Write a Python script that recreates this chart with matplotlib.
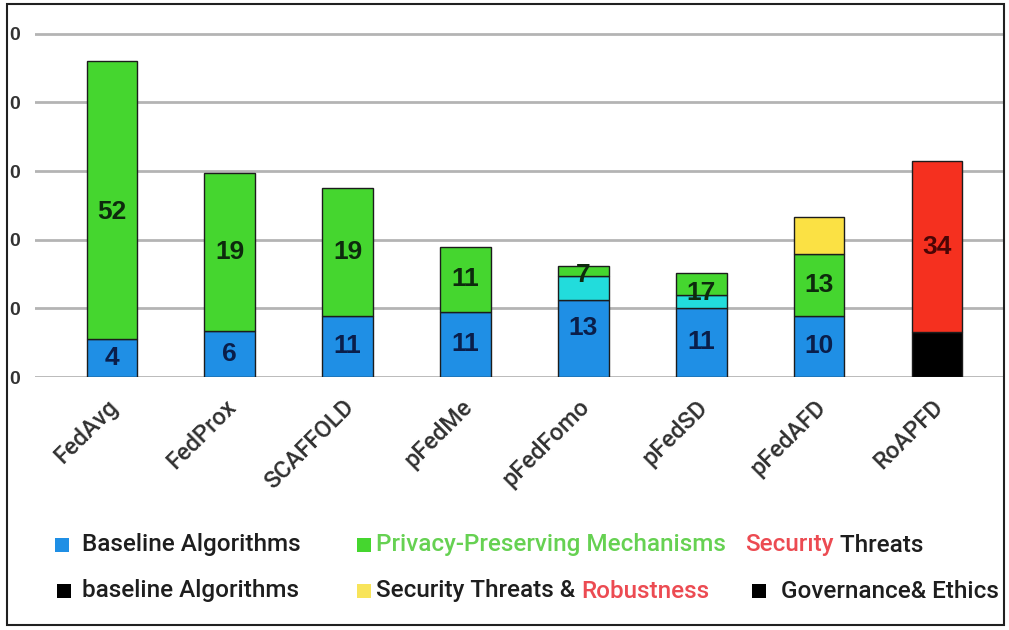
import matplotlib
matplotlib.use("Agg")
import matplotlib.pyplot as plt
from matplotlib.patches import Rectangle
from matplotlib.transforms import ScaledTranslation
import numpy as np

# ---------------- data ----------------
categories = ["FedAvg", "FedProx", "SCAFFOLD", "pFedMe", "pFedFomo", "pFedSD", "pFedAFD", "RoAPFD"]
y_ticks = [0, 10, 20, 30, 40, 50]
# only the last digit of each y tick label is visible in the (cropped) original
y_tick_labels = ["0", "0", "0", "0", "0", "0"]

# segment heights (axis units)
black_vals  = [0, 0, 0, 0, 0, 0, 0, 6.6]
blue_vals   = [5.5, 6.7, 8.9, 9.5, 11.2, 10.1, 8.9, 0]
cyan_vals   = [0, 0, 0, 0, 3.5, 1.9, 0, 0]
green_vals  = [40.6, 23.0, 18.7, 9.5, 1.5, 3.2, 9.0, 0]
yellow_vals = [0, 0, 0, 0, 0, 0, 5.4, 0]
red_vals    = [0, 0, 0, 0, 0, 0, 0, 24.8]

# printed segment labels
blue_labels  = ["4", "6", "11", "11", "13", "11", "10", ""]
green_labels = ["52", "19", "19", "11", "7", "17", "13", ""]
red_labels   = ["", "", "", "", "", "", "", "34"]

# ---------------- style ----------------
C_BLUE, C_CYAN, C_GREEN = "#1f8fe5", "#22dcdc", "#45d62f"
C_YELLOW, C_RED, C_BLACK = "#fbe144", "#f5301f", "#000000"

W, H = 1009, 630
fig = plt.figure(figsize=(W / 100, H / 100), dpi=100)
fig.patch.set_facecolor("white")

def px(x0, y0, x1, y1):
    return [x0 / W, 1 - y1 / H, (x1 - x0) / W, (y1 - y0) / H]

ax = fig.add_axes(px(35, 20, 1003, 377))
ax.set_facecolor("white")
for s in ax.spines.values():
    s.set_visible(False)

n = len(categories)
x = np.arange(n)
bw = 0.43
ax.set_xlim(-0.653, 7.56)
ax.set_ylim(0, 52.0)

stack = [
    (black_vals, C_BLACK, None, None),
    (blue_vals, C_BLUE, blue_labels, "#0a1e4a"),
    (cyan_vals, C_CYAN, None, None),
    (green_vals, C_GREEN, green_labels, "#0d2a0d"),
    (yellow_vals, C_YELLOW, None, None),
    (red_vals, C_RED, red_labels, "#4a0505"),
]
label_nudge = {(0, "green"): -1.7, (4, "blue"): 1.6, (4, "green"): -0.6, (5, "green"): -1.3}
names = ["black", "blue", "cyan", "green", "yellow", "red"]

bottom = np.zeros(n)
for (vals, col, labs, lcol), name in zip(stack, names):
    vals = np.array(vals, dtype=float)
    for i in range(n):
        if vals[i] <= 0:
            continue
        ax.bar(x[i], vals[i], bw, bottom=bottom[i], color=col,
               edgecolor="#1c1c1c", linewidth=1.0, zorder=3)
        if labs is not None and labs[i]:
            yc = bottom[i] + vals[i] / 2 + label_nudge.get((i, name), 0)
            ax.text(x[i], yc, labs[i], ha="center", va="center",
                    fontsize=19, fontweight="bold", color=lcol,
                    family="Liberation Sans", zorder=5)
    bottom += vals

ax.set_yticks(y_ticks)
ax.set_yticklabels(y_tick_labels, fontsize=14, fontweight="bold",
                   color="#333333", family="Liberation Sans")
ax.yaxis.grid(True, color="#b4b4b4", linewidth=2.0, zorder=0)
ax.tick_params(axis="y", length=0, pad=11)

ax.set_xticks(x)
ax.set_xticklabels(categories, rotation=45, ha="right", va="center",
                   rotation_mode="anchor", fontsize=17, color="#303030",
                   family="Roboto", fontweight="medium")
ax.tick_params(axis="x", length=0, pad=19)
off = ScaledTranslation(3 / 100, 0, fig.dpi_scale_trans)
for lab in ax.get_xticklabels():
    lab.set_transform(lab.get_transform() + off)

# ---------------- legend ----------------
def fx(p):
    return p / W

def fy(p):
    return 1 - p / H

lfont = dict(fontsize=17.5, family="Roboto", fontweight="medium", va="center", ha="left")
row1, row2 = 545, 591
sq = 14
fig.canvas.draw()
renderer = fig.canvas.get_renderer()

def square(xp, yp, col):
    fig.patches.append(Rectangle((fx(xp), fy(yp + sq / 2)), sq / W, sq / H,
                                 transform=fig.transFigure, facecolor=col,
                                 edgecolor="none", zorder=5))

def pieces(xp, yp, parts):
    cur = xp
    for txt, col in parts:
        t = fig.text(fx(cur), fy(yp), txt, color=col, **lfont)
        bb = t.get_window_extent(renderer=renderer)
        cur += bb.width

RED_T = "#ec4b52"
DARK_T = "#1e1e1e"
square(55, row1, C_BLUE)
pieces(82, row1, [("Baseline Algorithms", DARK_T)])
square(357, row1, C_GREEN)
pieces(376, row1, [("Privacy-Preserving Mechanisms", "#66d152")])
pieces(745, row1, [("Securıty", RED_T), (" Threats", DARK_T)])

square(57, row2, C_BLACK)
pieces(82, row2, [("baseline Algorithms", DARK_T)])
square(357, row2, "#f8e45a")
pieces(376, row2, [("Security Threats & ", DARK_T), ("Robustness", RED_T)])
square(752, row2, C_BLACK)
pieces(781, row2, [("Governance& Ethics", DARK_T)])

# ---------------- frame ----------------
fig.patches.append(Rectangle((fx(7), fy(625)), fx(1004) - fx(7), fy(4) - fy(625),
                             transform=fig.transFigure, facecolor="none",
                             edgecolor="#202020", linewidth=1.5, zorder=21))

fig.savefig("out.png", dpi=100)
